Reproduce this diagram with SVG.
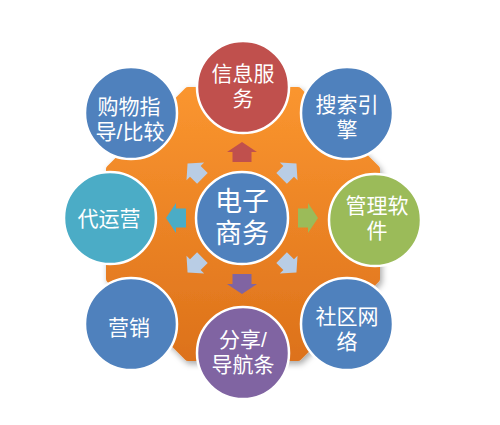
<svg xmlns="http://www.w3.org/2000/svg" width="500" height="425" viewBox="0 0 500 425">
<style>
.c{stroke:#fff;stroke-width:2.5}
.t{font-family:"Liberation Sans","Noto Sans CJK SC",sans-serif;font-size:21px;fill:#fff;text-anchor:middle;dominant-baseline:central}
.tc{font-size:27px}
.blue{fill:#4F81BD}
.da{fill:#B9CDE5}
</style>
<defs>
<linearGradient id="og" x1="0" y1="0" x2="0" y2="1">
<stop offset="0" stop-color="#FA952F"/>
<stop offset="1" stop-color="#DD721B"/>
</linearGradient>
<filter id="sh" x="-10%" y="-10%" width="130%" height="130%">
<feDropShadow dx="2" dy="3" stdDeviation="3" flood-color="#000" flood-opacity="0.35"/>
</filter>
<path id="ca" d="M-9.5 0V-10H-15L0-20L15-10H9.5V0Z"/>
<path id="da" d="M-7.5 0V-10H-12.5L0-21L12.5-10H7.5V0Z"/>
</defs>
<rect width="500" height="425" fill="#fff"/>
<g id="background">
<polygon points="188,91 298,91 376,169 376,279 298,357 188,357 110,279 110,169" fill="url(#og)" stroke="url(#og)" stroke-width="8" stroke-linejoin="round" filter="url(#sh)"/>
</g>
<g id="connectors">
<use href="#ca" fill="#C0504D" transform="translate(242,218) translate(0,-56)"/>
<use href="#ca" fill="#9BBB59" transform="translate(242,218) rotate(90) translate(0,-56)"/>
<use href="#ca" fill="#8064A2" transform="translate(242,218) rotate(180) translate(0,-56)"/>
<use href="#ca" fill="#4BACC6" transform="translate(242,218) rotate(270) translate(0,-56)"/>
<use href="#da" class="da" transform="translate(242,218) rotate(45) translate(0,-56)"/>
<use href="#da" class="da" transform="translate(242,218) rotate(135) translate(0,-56)"/>
<use href="#da" class="da" transform="translate(242,218) rotate(225) translate(0,-56)"/>
<use href="#da" class="da" transform="translate(242,218) rotate(315) translate(0,-56)"/>
</g>
<g id="n-center">
<circle class="c blue" cx="242" cy="218" r="46"/>
<text class="t tc"><tspan x="242" y="202">电子</tspan><tspan x="242" y="234">商务</tspan></text>
</g>
<g id="n-info">
<circle class="c" fill="#C0504D" cx="243" cy="87" r="46"/>
<text class="t"><tspan x="243" y="73">信息服</tspan><tspan x="243" y="98">务</tspan></text>
</g>
<g id="n-search">
<circle class="c blue" cx="347" cy="113" r="46"/>
<text class="t"><tspan x="347" y="104">搜索引</tspan><tspan x="347" y="129">擎</tspan></text>
</g>
<g id="n-software">
<circle class="c" fill="#9BBB59" cx="375" cy="220" r="46"/>
<text class="t"><tspan x="377" y="205">管理软</tspan><tspan x="377" y="230">件</tspan></text>
</g>
<g id="n-social">
<circle class="c blue" cx="347" cy="324" r="46"/>
<text class="t"><tspan x="347" y="316">社区网</tspan><tspan x="347" y="341">络</tspan></text>
</g>
<g id="n-share">
<circle class="c" fill="#8064A2" cx="243" cy="353" r="46"/>
<text class="t"><tspan x="243" y="339">分享/</tspan><tspan x="243" y="364">导航条</tspan></text>
</g>
<g id="n-marketing">
<circle class="c blue" cx="131" cy="324" r="46"/>
<text class="t" x="129" y="327">营销</text>
</g>
<g id="n-operation">
<circle class="c" fill="#4BACC6" cx="110" cy="218" r="46"/>
<text class="t" x="109" y="218">代运营</text>
</g>
<g id="n-shopping">
<circle class="c blue" cx="131" cy="113" r="46"/>
<text class="t"><tspan x="129" y="106">购物指</tspan><tspan x="130" y="131">导/比较</tspan></text>
</g>
</svg>
